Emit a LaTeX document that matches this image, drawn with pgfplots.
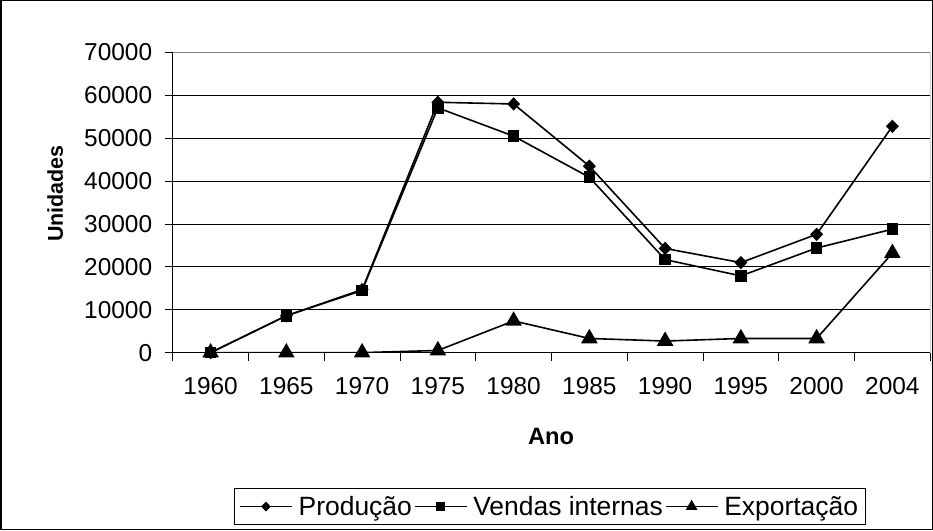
\documentclass[border=0pt]{standalone}
\usepackage{pgfplots}
\pgfplotsset{compat=1.18}
\usepackage{fontspec}
\setmainfont{Liberation Sans}

\newcommand{\tickfont}{\fontsize{24.5}{28}\selectfont}
\newcommand{\xlabfont}{\fontsize{23.7}{27}\selectfont\bfseries}
\newcommand{\ylabfont}{\fontsize{21.5}{25}\selectfont\bfseries}
\newcommand{\legfont}{\fontsize{26.5}{30}\selectfont}

\begin{document}
\begin{tikzpicture}
\begin{axis}[
  at={(0,0)}, anchor=south west,
  scale only axis,
  width=756.3bp, height=299.6bp,
  xmin=-0.5, xmax=9.5,
  ymin=0, ymax=70000,
  xtick={0,...,9},
  xticklabels={1960,1965,1970,1975,1980,1985,1990,1995,2000,2004},
  minor xtick={-0.5,0.5,...,9.5},
  ytick={0,10000,...,70000},
  scaled y ticks=false,
  /pgf/number format/assume math mode=true,
  yticklabel style={/pgf/number format/fixed, /pgf/number format/1000 sep={}},
  ticklabel style={font=\tickfont},
  tick align=outside,
  major x tick style={draw=none},
  minor x tick style={black, line width=0.8bp},
  major y tick style={black, line width=0.8bp},
  major tick length=8bp, minor tick length=8bp,
  xtick pos=bottom, ytick pos=left,
  xticklabel style={yshift=-13bp},
  yticklabel style={xshift=-9bp},
  ymajorgrids,
  grid style={black, line width=0.8bp},
  axis x line*=bottom, axis y line*=left,
  axis line style={black, line width=1bp, -},
  xlabel={Ano},
  ylabel={Unidades},
  xlabel style={font=\xlabfont, at={(axis description cs:0.4995,-0.278)}, anchor=center},
  ylabel style={font=\ylabfont, at={(axis description cs:-0.155,0.53)}, anchor=center},
  legend columns=3,
  legend style={at={(axis description cs:0.4976,-0.513)}, anchor=center,
    draw=black, line width=0.8bp, font=\legfont,
    inner xsep=5bp, inner ysep=6bp,
    nodes={inner xsep=2bp},
    /tikz/every odd column/.append style={column sep=4bp},
    /tikz/every even column/.append style={column sep=0bp}},
  legend cell align=left,
  legend image code/.code={
    \draw[mark repeat=2,mark phase=2,line width=1.3bp]
      plot coordinates {(0bp,0bp) (26bp,0bp) (52bp,0bp)};},
]
\draw[gray, line width=1bp] (rel axis cs:0,1) -- (rel axis cs:1,1) -- (rel axis cs:1,0);

\addplot[black, line width=1.6bp, mark=diamond*, mark size=5.5bp,
  mark options={solid, fill=black, xscale=1.3},
  legend image post style={mark size=4bp}]
  coordinates {(0,0) (1,8600) (2,14700) (3,58400) (4,58000) (5,43500) (6,24300) (7,21000) (8,27600) (9,52800)};
\addplot[black, line width=1.6bp, mark=square*, mark size=5bp,
  mark options={solid, fill=black},
  legend image post style={mark size=3.5bp}]
  coordinates {(0,0) (1,8600) (2,14500) (3,57100) (4,50500) (5,40900) (6,21700) (7,17900) (8,24400) (9,28800)};
\addplot[black, line width=1.6bp, mark=triangle*, mark size=8bp,
  mark options={solid, fill=black},
  legend image post style={mark size=5.5bp}]
  coordinates {(0,0) (1,0) (2,0) (3,500) (4,7400) (5,3300) (6,2700) (7,3300) (8,3300) (9,23200)};
\legend{Produção\hspace{7bp},Vendas internas\hspace{7bp},Exportação}
\end{axis}
\draw[black, line width=1.5bp] (-171.7bp,-176.7bp) rectangle (758.3bp,351.3bp);
\end{tikzpicture}
\end{document}
